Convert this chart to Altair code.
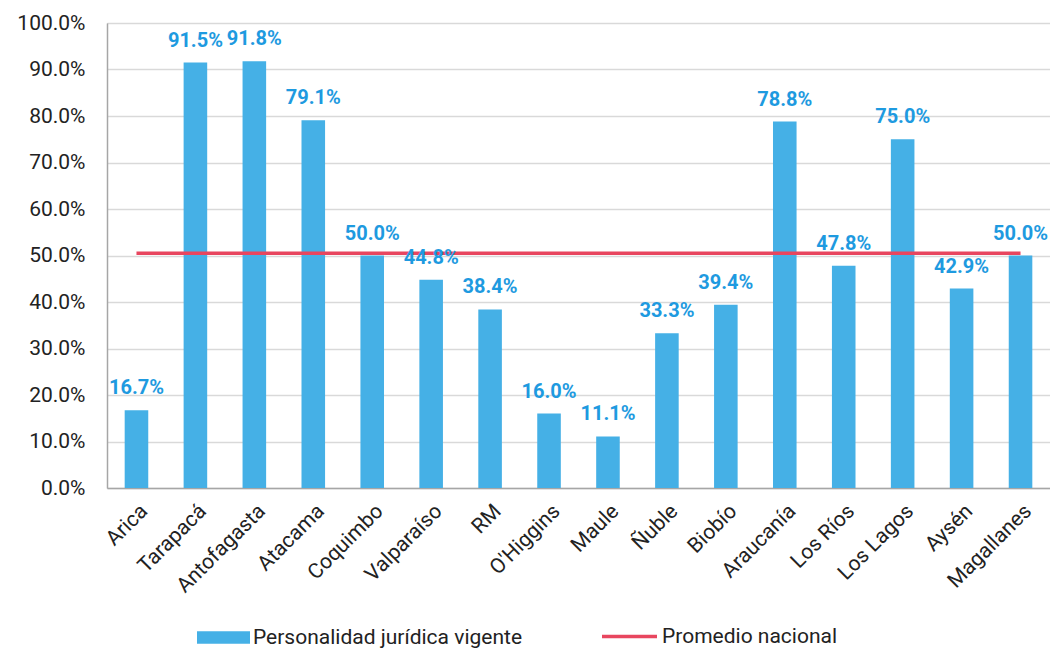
import altair as alt
import pandas as pd

regiones = ["Arica", "Tarapacá", "Antofagasta", "Atacama", "Coquimbo", "Valparaíso", "RM",
            "O'Higgins", "Maule", "Ñuble", "Biobío", "Araucanía", "Los Ríos", "Los Lagos",
            "Aysén", "Magallanes"]
vigente = [16.7, 91.5, 91.8, 79.1, 50.0, 44.8, 38.4, 16.0, 11.1, 33.3, 39.4, 78.8, 47.8, 75.0, 42.9, 50.0]
promedio = 50.5

df = pd.DataFrame({
    "region": regiones,
    "valor": [v / 100 for v in vigente],
    "prom": [promedio / 100] * len(regiones),
    "serie": ["Personalidad jurídica vigente"] * len(regiones),
    "serie2": ["Promedio nacional"] * len(regiones),
})

FONT = "Roboto"
BLUE = "#45B0E6"
LABEL_BLUE = "#1E9AE0"
RED = "#E8465F"
TXT = "#222222"

x = alt.X("region:N", sort=regiones, title=None,
          scale=alt.Scale(paddingInner=0.6, paddingOuter=0.3),
          axis=alt.Axis(labelAngle=-45, labelAlign="right", labelBaseline="top",
                        labelFontSize=21, labelColor=TXT, labelFont=FONT,
                        ticks=False, domainColor="#A6A6A6", domainWidth=1.5,
                        labelPadding=12, grid=False))

bars = alt.Chart(df).mark_bar(color=BLUE).encode(
    x=x,
    y=alt.Y("valor:Q", title=None,
            scale=alt.Scale(domain=[0, 1], nice=False),
            axis=alt.Axis(format=".1%", values=[i / 10 for i in range(11)],
                          labelFontSize=21, labelColor=TXT, labelFont=FONT,
                          ticks=False, domainColor="#A6A6A6", domainWidth=1.5,
                          gridColor="#D9D9D9", gridWidth=1.5, labelPadding=22)),
    color=alt.Color("serie:N", title=None,
                    scale=alt.Scale(domain=["Personalidad jurídica vigente"], range=[BLUE]),
                    legend=alt.Legend(orient="none", legendX=90, legendY=588,
                                      symbolType="M-1,-0.24H1V0.24H-1Z", symbolSize=2809,
                                      symbolStrokeWidth=0, symbolOpacity=1,
                                      labelFontSize=21, labelFont=FONT, labelColor=TXT,
                                      labelOffset=3, labelLimit=400)),
)

labels = alt.Chart(df).mark_text(baseline="bottom", dy=-12, fontSize=20, fontWeight="bold",
                                 font=FONT, color=LABEL_BLUE).encode(
    x=alt.X("region:N", sort=regiones),
    y=alt.Y("valor:Q"),
    text=alt.Text("valor:Q", format=".1%"),
)

line = alt.Chart(df).mark_line(strokeWidth=3.5).encode(
    x=alt.X("region:N", sort=regiones),
    y=alt.Y("prom:Q"),
    stroke=alt.Stroke("serie2:N", title=None,
                      scale=alt.Scale(domain=["Promedio nacional"], range=[RED]),
                      legend=alt.Legend(orient="none", legendX=493, legendY=584,
                                        symbolType="stroke", symbolSize=3025,
                                        symbolStrokeWidth=3.5,
                                        labelFontSize=21, labelFont=FONT, labelColor=TXT,
                                        labelOffset=3, labelLimit=400)),
)

chart = alt.layer(bars, line, labels).resolve_scale(color="independent").properties(
    width=943, height=465,
    autosize=alt.AutoSizeParams(type="none"),
    padding={"left": 99, "top": 15, "right": 0, "bottom": 160},
).configure_view(stroke=None).configure(font=FONT)

chart.save("out.html", embed_options={"renderer": "svg", "actions": False})
